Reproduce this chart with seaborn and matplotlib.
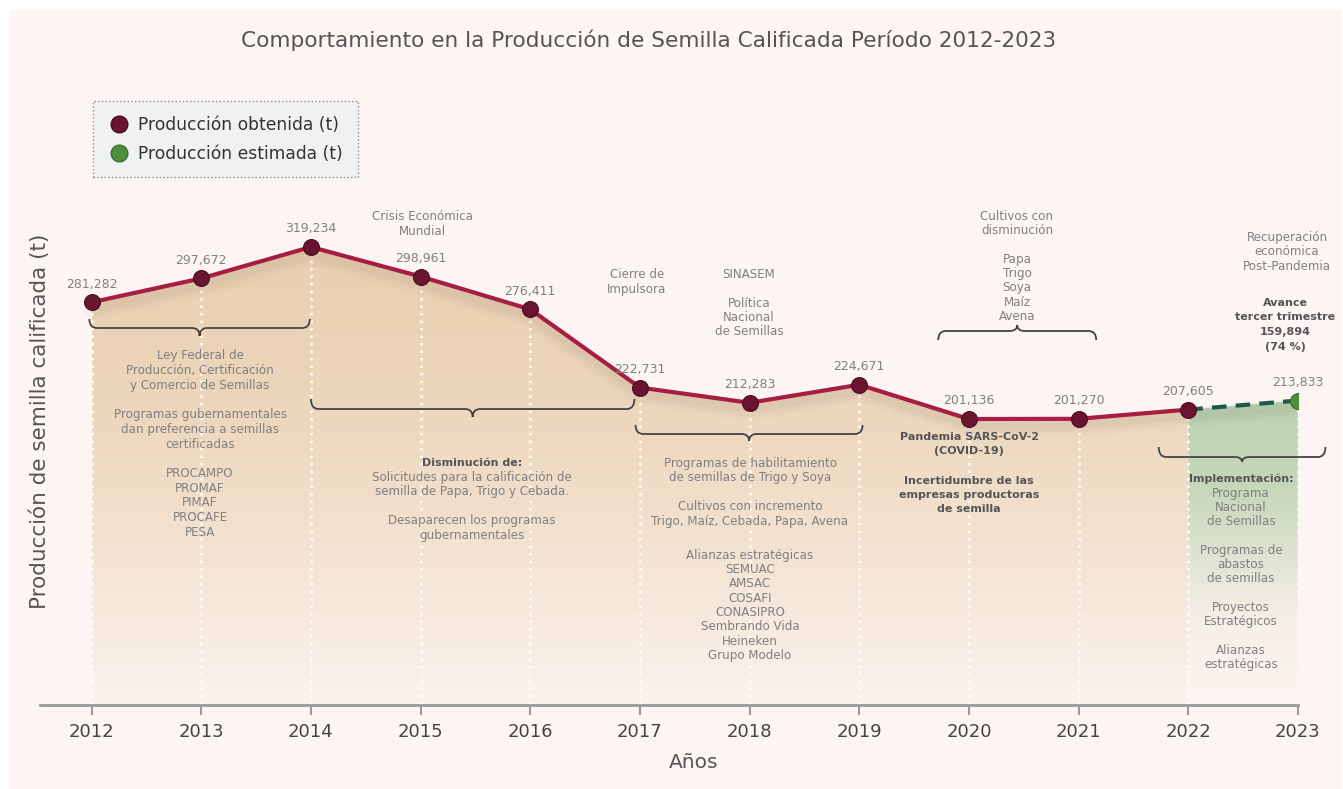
import matplotlib
matplotlib.use('Agg')
import matplotlib.pyplot as plt
import matplotlib.transforms as mtransforms
from matplotlib.colors import LinearSegmentedColormap
from matplotlib.lines import Line2D
from matplotlib.path import Path
from matplotlib.patches import PathPatch, Rectangle
import numpy as np
import pandas as pd
import seaborn as sns

# Datos
anios = [2012, 2013, 2014, 2015, 2016, 2017, 2018, 2019, 2020, 2021, 2022]
produccion = [281282, 297672, 319234, 298961, 276411, 222731, 212283, 224671, 201136, 201270, 207605]
anios_estimado = [2022, 2023]
estimada = [207605, 213833]
ticks_anios = list(range(2012, 2024))

titulo = 'Comportamiento en la Producción de Semilla Calificada Período 2012-2023'
etiqueta_y = 'Producción de semilla calificada (t)'
etiqueta_x = 'Años'
leyenda = ['Producción obtenida (t)', 'Producción estimada (t)']

GRIS = '#808080'
GRIS_OSC = '#555555'
ROJO = '#a61e41'
GUINDA = '#6a1430'
VERDE = '#4f8e3d'
VERDE_OSC = '#1d5a47'

sns.set_theme(style='white')
plt.rcParams['font.family'] = ['DejaVu Sans']

W, H = 1343, 789
fig = plt.figure(figsize=(W / 100, H / 100), dpi=100, facecolor='white')
fig.patches.append(Rectangle((10 / W, 0), 1330 / W, 779 / H, transform=fig.transFigure,
                             color='#fdf5f3', zorder=-10))

ax = fig.add_axes([40 / W, 1 - 705 / H, 1258 / W, 645 / H])
ax.patch.set_alpha(0)
y_min, y_max = 4800, 447600

# transformacion en pixeles (origen arriba a la izquierda)
px = mtransforms.Affine2D().scale(1 / 100, -1 / 100).translate(0, H / 100) + fig.dpi_scale_trans
blend = mtransforms.blended_transform_factory(ax.transData, px)

df = pd.DataFrame({'anio': anios, 'produccion': produccion})
df_est = pd.DataFrame({'anio': anios_estimado, 'produccion': estimada})

# relleno con degradado
grad = np.linspace(0, 1, 256).reshape(-1, 1)
cmap_tan = LinearSegmentedColormap.from_list('tan', ['#fbf3ed', '#f3e3d2', '#ecd6bb', '#e9cfb0'])
poly = ax.fill_between(df['anio'], df['produccion'], y_min, color='none', lw=0)
im = ax.imshow(grad, extent=[2012, 2022, y_min, 320000], origin='lower', aspect='auto',
               cmap=cmap_tan, zorder=1)
im.set_clip_path(poly.get_paths()[0], transform=ax.transData)

cmap_verde = LinearSegmentedColormap.from_list(
    'verde', [(0, '#fcf5f1'), (0.3, '#f4eee6'), (0.72, '#c5d7b9'), (1, '#bed3b1')])
poly2 = ax.fill_between(df_est['anio'], df_est['produccion'], y_min, color='none', lw=0)
im2 = ax.imshow(grad, extent=[2022, 2023, y_min, 214000], origin='lower', aspect='auto',
                cmap=cmap_verde, zorder=1)
im2.set_clip_path(poly2.get_paths()[0], transform=ax.transData)

# lineas punteadas blancas
ax.vlines(df['anio'], y_min, df['produccion'], colors='white', linestyles=(0, (1, 2)), lw=1.8, zorder=2)
ax.vlines(df_est['anio'].iloc[-1:], y_min, df_est['produccion'].iloc[-1:], colors='white',
          linestyles=(0, (1, 2)), lw=1.8, zorder=2)

# sombra suave de la linea
for dy, lw, a in [(-8, 14, 0.015), (-7, 10, 0.02), (-6, 6, 0.025)]:
    sh = mtransforms.offset_copy(ax.transData, fig=fig, x=0, y=dy, units='dots')
    ax.plot(anios + anios_estimado[1:], produccion + estimada[1:], color='black', lw=lw,
            alpha=a, transform=sh, zorder=2, solid_capstyle='round')

sns.lineplot(data=df, x='anio', y='produccion', color=ROJO, lw=3, ax=ax, zorder=4)
sns.lineplot(data=df_est, x='anio', y='produccion', color=VERDE_OSC, lw=3, ax=ax, zorder=4,
             linestyle=(0, (3.5, 2.2)))
sns.scatterplot(data=df, x='anio', y='produccion', color=GUINDA, s=130, edgecolor='#4a0b20',
                linewidth=0.8, ax=ax, zorder=5)
sns.scatterplot(data=df_est.iloc[-1:], x='anio', y='produccion', color=VERDE, s=130,
                edgecolor='#3a6e2d', linewidth=0.8, ax=ax, zorder=5)

# etiquetas de valores
for x, v in zip(anios + anios_estimado[1:], produccion + estimada[1:]):
    ax.annotate(f'{v:,}', (x, v), xytext=(0, 13), textcoords='offset points', ha='center',
                va='center', fontsize=9, color=GRIS, zorder=6)

ax.set_xlim(2011.53, 2023)
ax.set_ylim(y_min, y_max)
ax.set_xticks(ticks_anios)
ax.set_yticks([])
ax.set_xlabel('')
ax.set_ylabel('')
for s in ['top', 'right', 'left']:
    ax.spines[s].set_visible(False)
ax.spines['bottom'].set_color('#9a9a9a')
ax.spines['bottom'].set_linewidth(2)
ax.tick_params(axis='x', bottom=True, length=7, width=1.5, color='#9a9a9a', labelsize=13,
               labelcolor='#444444', pad=6)


def llave(x0, x1, y_punta, y_linea, y_pico, r=0.07):
    xm = (x0 + x1) / 2
    verts = [(x0, y_punta), (x0, y_linea), (x0 + r, y_linea),
             (xm - r, y_linea), (xm, y_linea), (xm, y_pico),
             (xm, y_linea), (xm + r, y_linea),
             (x1 - r, y_linea), (x1, y_linea), (x1, y_punta)]
    codes = [Path.MOVETO, Path.CURVE3, Path.CURVE3,
             Path.LINETO, Path.CURVE3, Path.CURVE3,
             Path.CURVE3, Path.CURVE3,
             Path.LINETO, Path.CURVE3, Path.CURVE3]
    ax.add_patch(PathPatch(Path(verts, codes), transform=blend, fill=False, ec='#444444',
                           lw=1.3, clip_on=False, zorder=6))


llave(2011.98, 2013.99, 319, 328, 336)
llave(2014.0, 2016.95, 399, 409, 417)
llave(2016.96, 2019.03, 425, 434, 441)
llave(2019.72, 2021.16, 340, 331, 325)
llave(2021.73, 2023.25, 447, 457, 462)


def nota(x, y, s, bold=False, color=GRIS, paso=14.5):
    # un texto por renglon, y = centro del primer renglon en pixeles
    fs = 8.0 if bold else 8.6
    for i, renglon in enumerate(s.split('\n')):
        if renglon:
            fig.text(x, y + i * paso, renglon, transform=px, ha='center', va='center',
                     fontsize=fs, color=color, fontweight='bold' if bold else 'normal', zorder=7)


nota(422, 217, 'Crisis Económica\nMundial')
nota(637, 275, 'Cierre de\nImpulsora')
nota(749, 275, 'SINASEM\n\nPolítica\nNacional\nde Semillas', paso=14.1)
nota(1017, 216, 'Cultivos con\ndisminución\n\nPapa\nTrigo\nSoya\nMaíz\nAvena', paso=14.4)
nota(1287, 237, 'Recuperación\neconómica\nPost-Pandemia')
nota(1285, 303, 'Avance\ntercer trimestre\n159,894\n(74 %)', bold=True, color=GRIS_OSC)
nota(200, 356, 'Ley Federal de\nProducción, Certificación\ny Comercio de Semillas\n\n'
     'Programas gubernamentales\ndan preferencia a semillas\ncertificadas\n\n'
     'PROCAMPO\nPROMAF\nPIMAF\nPROCAFE\nPESA', paso=14.67)
nota(472, 463, 'Disminución de:', bold=True, color=GRIS_OSC)
nota(472, 477, 'Solicitudes para la calificación de\nsemilla de Papa, Trigo y Cebada.\n\n'
     'Desaparecen los programas\ngubernamentales')
nota(750, 463, 'Programas de habilitamiento\nde semillas de Trigo y Soya\n\n'
     'Cultivos con incremento\nTrigo, Maíz, Cebada, Papa, Avena', paso=14.6)
nota(750, 555, 'Alianzas estratégicas\nSEMUAC\nAMSAC\nCOSAFI\nCONASIPRO\nSembrando Vida\n'
     'Heineken\nGrupo Modelo', paso=14.4)
nota(969, 437, 'Pandemia SARS-CoV-2\n(COVID-19)\n\nIncertidumbre de las\nempresas productoras\nde semilla',
     bold=True, color=GRIS_OSC)
nota(1241, 479, 'Implementación:', bold=True, color=GRIS_OSC)
nota(1241, 493, 'Programa\nNacional\nde Semillas\n\nProgramas de\nabastos\nde semillas\n\n'
     'Proyectos\nEstratégicos\n\nAlianzas\nestratégicas', paso=14.33)

# titulos
fig.text(649, 40, titulo, transform=px, ha='center', va='center', fontsize=15.6, color=GRIS_OSC)
fig.text(40, 421, etiqueta_y, transform=px, ha='center', va='center', rotation=90, fontsize=15.5,
         color=GRIS_OSC)
fig.text(694, 763, etiqueta_x, transform=px, ha='center', va='center', fontsize=14.5, color=GRIS_OSC)

# leyenda
handles = [Line2D([], [], marker='o', ls='', markersize=12, markerfacecolor=GUINDA,
                  markeredgecolor='#4a0b20'),
           Line2D([], [], marker='o', ls='', markersize=12, markerfacecolor=VERDE,
                  markeredgecolor='#3a6e2d')]
leg = fig.legend(handles, leyenda, loc='upper left', bbox_to_anchor=(93 / W, 1 - 101 / H),
                 frameon=True, fancybox=False, fontsize=12.3, labelcolor='#333333',
                 borderpad=0.85, handlelength=1.4, handletextpad=0.4, labelspacing=0.65,
                 borderaxespad=0)
frame = leg.get_frame()
frame.set_facecolor('#eff1f3')
frame.set_edgecolor('#8a8a8a')
frame.set_linestyle(':')
frame.set_linewidth(1)
frame.set_alpha(1)

fig.savefig('out.png', dpi=100, facecolor=fig.get_facecolor())
